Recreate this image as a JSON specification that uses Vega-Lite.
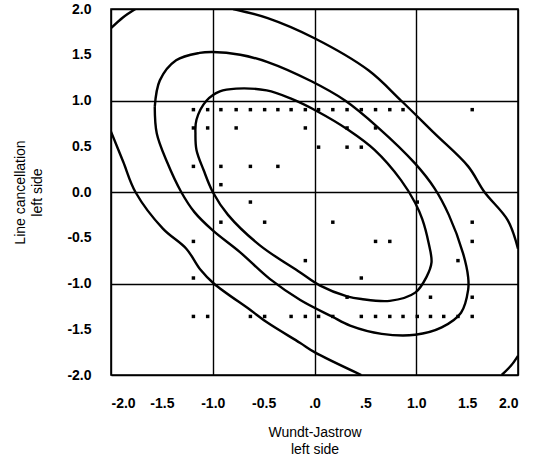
{
  "$schema": "https://vega.github.io/schema/vega-lite/v6.json",
  "width": 407,
  "height": 366,
  "autosize": {"type": "none"},
  "padding": {"left": 111, "top": 9, "right": 20, "bottom": 84},
  "background": "white",
  "config": {
    "view": {"stroke": "black", "strokeWidth": 1.6},
    "font": "Liberation Sans",
    "axis": {
      "domain": false,
      "ticks": false,
      "tickSize": 0,
      "grid": true,
      "gridColor": "black",
      "gridWidth": 1.4,
      "gridOpacity": {"condition": {"test": "datum.value % 1 !== 0", "value": 0}, "value": 1},
      "labelFontSize": 14,
      "labelFontWeight": "bold",
      "labelColor": "black",
      "labelFont": "Liberation Sans",
      "titleFont": "Liberation Sans",
      "titleFontSize": 14,
      "titleFontWeight": "normal",
      "titleColor": "black",
      "titleLineHeight": 17
    }
  },
  "datasets": {
    "curves": [
      {"c": "A", "i": 0, "x": -1.17, "y": 0.64},
      {"c": "A", "i": 1, "x": -1.16, "y": 0.79},
      {"c": "A", "i": 2, "x": -1.06, "y": 1.0},
      {"c": "A", "i": 3, "x": -0.93, "y": 1.1},
      {"c": "A", "i": 4, "x": -0.77, "y": 1.13},
      {"c": "A", "i": 5, "x": -0.47, "y": 1.11},
      {"c": "A", "i": 6, "x": -0.23, "y": 1.02},
      {"c": "A", "i": 7, "x": 0.03, "y": 0.88},
      {"c": "A", "i": 8, "x": 0.33, "y": 0.68},
      {"c": "A", "i": 9, "x": 0.59, "y": 0.46},
      {"c": "A", "i": 10, "x": 0.85, "y": 0.13},
      {"c": "A", "i": 11, "x": 0.99, "y": -0.12},
      {"c": "A", "i": 12, "x": 1.06, "y": -0.3},
      {"c": "A", "i": 13, "x": 1.12, "y": -0.55},
      {"c": "A", "i": 14, "x": 1.15, "y": -0.77},
      {"c": "A", "i": 15, "x": 1.1, "y": -0.93},
      {"c": "A", "i": 16, "x": 0.99, "y": -1.1},
      {"c": "A", "i": 17, "x": 0.74, "y": -1.19},
      {"c": "A", "i": 18, "x": 0.46, "y": -1.17},
      {"c": "A", "i": 19, "x": 0.32, "y": -1.14},
      {"c": "A", "i": 20, "x": 0.05, "y": -1.02},
      {"c": "A", "i": 21, "x": -0.14, "y": -0.88},
      {"c": "A", "i": 22, "x": -0.54, "y": -0.58},
      {"c": "A", "i": 23, "x": -0.85, "y": -0.25},
      {"c": "A", "i": 24, "x": -1.0, "y": 0.0},
      {"c": "A", "i": 25, "x": -1.09, "y": 0.24},
      {"c": "A", "i": 26, "x": -1.16, "y": 0.46},
      {"c": "A", "i": 27, "x": -1.17, "y": 0.64},
      {"c": "B", "i": 0, "x": -1.57, "y": 0.93},
      {"c": "B", "i": 1, "x": -1.52, "y": 1.22},
      {"c": "B", "i": 2, "x": -1.36, "y": 1.44},
      {"c": "B", "i": 3, "x": -1.13, "y": 1.52},
      {"c": "B", "i": 4, "x": -1.0, "y": 1.53},
      {"c": "B", "i": 5, "x": -0.73, "y": 1.5},
      {"c": "B", "i": 6, "x": -0.46, "y": 1.42},
      {"c": "B", "i": 7, "x": -0.03, "y": 1.21},
      {"c": "B", "i": 8, "x": 0.3, "y": 1.0},
      {"c": "B", "i": 9, "x": 0.62, "y": 0.71},
      {"c": "B", "i": 10, "x": 0.99, "y": 0.31},
      {"c": "B", "i": 11, "x": 1.18, "y": 0.04},
      {"c": "B", "i": 12, "x": 1.32, "y": -0.25},
      {"c": "B", "i": 13, "x": 1.46, "y": -0.67},
      {"c": "B", "i": 14, "x": 1.51, "y": -0.93},
      {"c": "B", "i": 15, "x": 1.51, "y": -1.07},
      {"c": "B", "i": 16, "x": 1.44, "y": -1.32},
      {"c": "B", "i": 17, "x": 1.25, "y": -1.48},
      {"c": "B", "i": 18, "x": 0.99, "y": -1.56},
      {"c": "B", "i": 19, "x": 0.66, "y": -1.55},
      {"c": "B", "i": 20, "x": 0.35, "y": -1.46},
      {"c": "B", "i": 21, "x": 0.17, "y": -1.36},
      {"c": "B", "i": 22, "x": -0.14, "y": -1.18},
      {"c": "B", "i": 23, "x": -0.44, "y": -0.95},
      {"c": "B", "i": 24, "x": -0.73, "y": -0.66},
      {"c": "B", "i": 25, "x": -1.0, "y": -0.42},
      {"c": "B", "i": 26, "x": -1.18, "y": -0.22},
      {"c": "B", "i": 27, "x": -1.31, "y": 0.0},
      {"c": "B", "i": 28, "x": -1.45, "y": 0.33},
      {"c": "B", "i": 29, "x": -1.55, "y": 0.64},
      {"c": "B", "i": 30, "x": -1.57, "y": 0.93},
      {"c": "C1", "i": 0, "x": -0.8, "y": 2.0},
      {"c": "C1", "i": 1, "x": -0.46, "y": 1.9},
      {"c": "C1", "i": 2, "x": 0.0, "y": 1.68},
      {"c": "C1", "i": 3, "x": 0.53, "y": 1.33},
      {"c": "C1", "i": 4, "x": 0.85, "y": 1.0},
      {"c": "C1", "i": 5, "x": 1.18, "y": 0.64},
      {"c": "C1", "i": 6, "x": 1.51, "y": 0.28},
      {"c": "C1", "i": 7, "x": 1.67, "y": 0.0},
      {"c": "C1", "i": 8, "x": 1.9, "y": -0.31},
      {"c": "C1", "i": 9, "x": 2.0, "y": -0.62},
      {"c": "C2", "i": 0, "x": -2.0, "y": 0.66},
      {"c": "C2", "i": 1, "x": -1.88, "y": 0.33},
      {"c": "C2", "i": 2, "x": -1.76, "y": 0.0},
      {"c": "C2", "i": 3, "x": -1.49, "y": -0.4},
      {"c": "C2", "i": 4, "x": -1.26, "y": -0.62},
      {"c": "C2", "i": 5, "x": -1.12, "y": -0.85},
      {"c": "C2", "i": 6, "x": -0.99, "y": -1.0},
      {"c": "C2", "i": 7, "x": -0.63, "y": -1.29},
      {"c": "C2", "i": 8, "x": -0.46, "y": -1.43},
      {"c": "C2", "i": 9, "x": -0.14, "y": -1.65},
      {"c": "C2", "i": 10, "x": 0.0, "y": -1.75},
      {"c": "C2", "i": 11, "x": 0.46, "y": -2.0},
      {"c": "D1", "i": 0, "x": -2.0, "y": 1.79},
      {"c": "D1", "i": 1, "x": -1.88, "y": 1.91},
      {"c": "D1", "i": 2, "x": -1.76, "y": 2.0},
      {"c": "D2", "i": 0, "x": 1.84, "y": -2.0},
      {"c": "D2", "i": 1, "x": 1.93, "y": -1.9},
      {"c": "D2", "i": 2, "x": 2.0, "y": -1.79}
    ],
    "pts": [
      {"x": -1.19, "y": 0.9}, {"x": -1.05, "y": 0.9}, {"x": -0.92, "y": 0.9}, {"x": -0.77, "y": 0.9},
      {"x": -0.63, "y": 0.9}, {"x": -0.49, "y": 0.9}, {"x": -0.36, "y": 0.9}, {"x": -0.23, "y": 0.9},
      {"x": -0.09, "y": 0.9}, {"x": 0.04, "y": 0.9}, {"x": 0.18, "y": 0.9}, {"x": 0.32, "y": 0.9},
      {"x": 0.46, "y": 0.9}, {"x": 0.6, "y": 0.9}, {"x": 0.74, "y": 0.9}, {"x": 0.87, "y": 0.9},
      {"x": 1.55, "y": 0.9},
      {"x": -1.19, "y": 0.7}, {"x": -1.05, "y": 0.7}, {"x": -0.77, "y": 0.7}, {"x": -0.09, "y": 0.7},
      {"x": 0.32, "y": 0.7}, {"x": 0.6, "y": 0.7},
      {"x": 0.04, "y": 0.49}, {"x": 0.32, "y": 0.49}, {"x": 0.46, "y": 0.49},
      {"x": -1.19, "y": 0.28}, {"x": -0.92, "y": 0.28}, {"x": -0.63, "y": 0.28}, {"x": -0.36, "y": 0.28},
      {"x": -0.92, "y": 0.08},
      {"x": -0.63, "y": -0.11}, {"x": 1.01, "y": -0.11},
      {"x": -0.92, "y": -0.33}, {"x": -0.49, "y": -0.33}, {"x": 0.18, "y": -0.33}, {"x": 1.55, "y": -0.33},
      {"x": -1.19, "y": -0.54}, {"x": 0.6, "y": -0.54}, {"x": 0.74, "y": -0.54}, {"x": 1.55, "y": -0.54},
      {"x": -0.09, "y": -0.75}, {"x": 1.41, "y": -0.75},
      {"x": -1.19, "y": -0.94}, {"x": 0.46, "y": -0.94},
      {"x": 0.32, "y": -1.15}, {"x": 1.14, "y": -1.15}, {"x": 1.55, "y": -1.15},
      {"x": -1.19, "y": -1.36}, {"x": -1.05, "y": -1.36}, {"x": -0.63, "y": -1.36}, {"x": -0.49, "y": -1.36},
      {"x": -0.23, "y": -1.36}, {"x": -0.09, "y": -1.36}, {"x": 0.04, "y": -1.36}, {"x": 0.18, "y": -1.36},
      {"x": 0.46, "y": -1.36}, {"x": 0.6, "y": -1.36}, {"x": 0.74, "y": -1.36}, {"x": 0.87, "y": -1.36},
      {"x": 1.01, "y": -1.36}, {"x": 1.14, "y": -1.36}, {"x": 1.27, "y": -1.36}, {"x": 1.41, "y": -1.36},
      {"x": 1.55, "y": -1.36}
    ]
  },
  "layer": [
    {
      "data": {"name": "curves"},
      "mark": {"type": "line", "stroke": "black", "strokeWidth": 2.4, "clip": true, "interpolate": "catmull-rom"},
      "encoding": {
        "x": {
          "field": "x", "type": "quantitative",
          "scale": {"domain": [-2, 2], "nice": false, "zero": false},
          "axis": {
            "values": [-2, -1.5, -1, -0.5, 0, 0.5, 1, 1.5, 2],
            "labelPadding": 21,
            "labelExpr": "datum.value == 0 ? '.0' : datum.value == 0.5 ? '.5' : replace(format(datum.value, '.1f'), '\u2212', '-')",
            "title": ["Wundt-Jastrow", "left side"],
            "titleY": 50,
            "titleBaseline": "top"
          }
        },
        "y": {
          "field": "y", "type": "quantitative",
          "scale": {"domain": [-2, 2], "nice": false, "zero": false},
          "axis": {
            "values": [-2, -1.5, -1, -0.5, 0, 0.5, 1, 1.5, 2],
            "labelPadding": 20,
            "labelExpr": "replace(format(datum.value, '.1f'), '\u2212', '-')",
            "title": ["Line cancellation", "left side"],
            "titleX": -98,
            "titleY": 183,
            "titleAngle": -90,
            "titleBaseline": "top"
          }
        },
        "detail": {"field": "c", "type": "nominal"},
        "order": {"field": "i", "type": "quantitative"}
      }
    },
    {
      "data": {"name": "pts"},
      "mark": {"type": "square", "color": "black", "size": 12, "opacity": 1},
      "encoding": {
        "x": {"field": "x", "type": "quantitative"},
        "y": {"field": "y", "type": "quantitative"}
      }
    }
  ]
}
